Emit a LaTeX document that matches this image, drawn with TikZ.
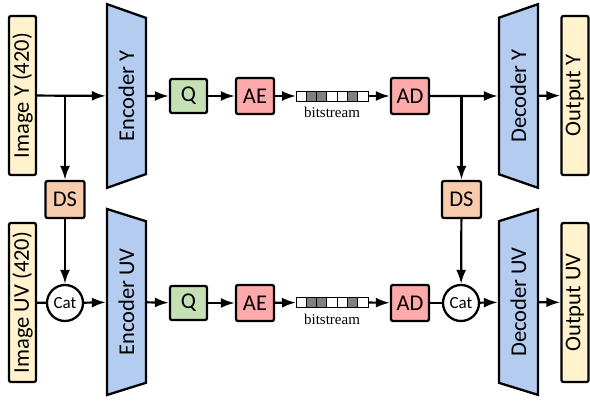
\documentclass[tikz,border=0pt]{standalone}
\usepackage{fontspec}
\setmainfont{Carlito}
\newfontfamily\bitfont{Liberation Serif}
\usetikzlibrary{arrows.meta, positioning, shapes.geometric}
\definecolor{fillImage}{RGB}{255,242,204}
\definecolor{fillCoder}{RGB}{180,204,240}
\definecolor{fillQuant}{RGB}{197,224,180}
\definecolor{fillArith}{RGB}{255,170,170}
\definecolor{fillDown}{RGB}{248,203,173}
\definecolor{fillBit}{RGB}{128,128,128}
\tikzset{
  codecNode/.style={
    draw,
    line width=2.3pt,
    rounded corners=2pt,
    align=center,
    inner sep=2pt,
    font=\fontsize{22.5}{26}\selectfont
  },
  imageNode/.style={codecNode, fill=fillImage, rotate=90, minimum width=159pt, minimum height=27pt},
  quantNode/.style={codecNode, fill=fillQuant, minimum width=37pt, minimum height=34pt},
  arithNode/.style={codecNode, fill=fillArith, minimum width=38pt, minimum height=36pt},
  downNode/.style={codecNode, fill=fillDown, minimum width=39pt, minimum height=37pt},
  catNode/.style={circle, draw, line width=2.3pt, fill=white, minimum size=36pt, inner sep=0pt, font=\fontsize{17}{20}\selectfont},
  coderNode/.style={
    trapezium,
    draw,
    line width=2.3pt,
    fill=fillCoder,
    rotate=90,
    trapezium stretches=true,
    minimum width=184pt,
    minimum height=39pt,
    font=\fontsize{22.5}{26}\selectfont
  },
  encNode/.style={coderNode, trapezium left angle=111, trapezium right angle=111},
  decNode/.style={coderNode, trapezium left angle=69, trapezium right angle=69},
  bitCell/.style={draw, line width=0.9pt, minimum width=10.3pt, minimum height=10pt, inner sep=0pt, outer sep=0pt},
  bitLabel/.style={inner sep=0pt, font=\bitfont\fontsize{15}{17}\selectfont},
  flowArrow/.style={-{Latex[length=14pt,width=10pt]}, line width=2.2pt},
  flowLine/.style={line width=2.2pt}
}

\begin{document}
\begin{tikzpicture}[x=1pt, y=-1pt]
  \useasboundingbox (0,0) rectangle (590,401);

  % luma branch
  \node[imageNode] (imgY) at (22.5,95.5) {Image Y (420)};
  \node[encNode] (encY) at (126.5,96) {Encoder Y};
  \node[quantNode] (qY) at (188.5,96) {Q};
  \node[arithNode] (aeY) at (255,96) {AE};
  \node[arithNode] (adY) at (410,96) {AD};
  \node[decNode] (decY) at (518.5,96) {Decoder Y};
  \node[imageNode] (outY) at (575,95.5) {Output Y};

  % chroma branch
  \node[imageNode] (imgUV) at (22.5,302.5) {Image UV (420)};
  \node[catNode] (catL) at (65,303) {Cat};
  \node[encNode, minimum width=186pt] (encUV) at (126.5,302) {Encoder UV};
  \node[quantNode] (qUV) at (188.5,303) {Q};
  \node[arithNode] (aeUV) at (255,303) {AE};
  \node[arithNode] (adUV) at (410,303) {AD};
  \node[catNode] (catR) at (461,303) {Cat};
  \node[decNode, minimum width=186pt] (decUV) at (518.5,302) {Decoder UV};
  \node[imageNode] (outUV) at (575,302.5) {Output UV};

  % downsampling
  \node[downNode] (dsY) at (65,199.5) {DS};
  \node[downNode] (dsY2) at (461.5,199.5) {DS};

  % bitstreams
  \foreach \row/\yy in {Y/96, UV/302.5} {
    \foreach \i/\c in {1/white, 2/fillBit, 3/fillBit, 4/white, 5/white, 6/fillBit, 7/white} {
      \node[bitCell, fill=\c] (bit\row\i) at ({296+10.3*(\i-0.5)},\yy) {};
    }
    \node[bitLabel, below=6pt of bit\row4] (bitText\row) {bitstream};
  }

  \coordinate (splitY) at (65,96);
  \coordinate (splitY2) at (461.5,96);

  \draw[flowArrow] (imgY) -- (encY);
  \draw[flowArrow] (splitY) -- (dsY);
  \draw[flowArrow] (encY) -- (qY);
  \draw[flowArrow] (qY) -- (aeY);
  \draw[flowArrow] (aeY) -- (bitY1);
  \draw[flowArrow] (bitY7) -- (adY);
  \draw[flowArrow] (adY) -- (decY);
  \draw[flowArrow] (splitY2) -- (dsY2);
  \draw[flowArrow] (decY) -- (outY);

  \draw[flowLine] (imgUV) -- (catL);
  \draw[flowArrow] (dsY) -- (catL);
  \draw[flowArrow] (catL) -- (encUV);
  \draw[flowArrow] (encUV) -- (qUV);
  \draw[flowArrow] (qUV) -- (aeUV);
  \draw[flowArrow] (aeUV) -- (bitUV1);
  \draw[flowArrow] (bitUV7) -- (adUV);
  \draw[flowLine] (adUV) -- (catR);
  \draw[flowArrow] (dsY2) -- (catR);
  \draw[flowArrow] (catR) -- (decUV);
  \draw[flowArrow] (decUV) -- (outUV);
\end{tikzpicture}
\end{document}
